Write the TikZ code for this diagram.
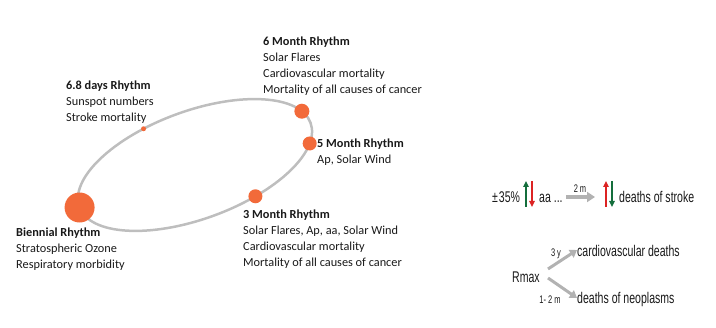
\documentclass[tikz,border=0pt]{standalone}
\usepackage{fontspec}
\setmainfont{Carlito}
\newfontfamily\narrowfont[FakeStretch=0.68]{Liberation Sans}
\usetikzlibrary{arrows.meta}
\definecolor{dotorange}{RGB}{242,106,58}
\definecolor{ringgray}{RGB}{190,190,190}
\definecolor{arrgray}{RGB}{178,178,178}
\definecolor{upgreen}{RGB}{20,110,60}
\definecolor{downred}{RGB}{220,35,35}
\definecolor{txt}{RGB}{25,25,25}
\tikzset{
  dot/.style={circle,fill=dotorange,inner sep=0pt,minimum size=#1},
  rtext/.style={anchor=north west,inner sep=0pt,align=left,text=txt,font=\fontsize{12.3}{16}\selectfont},
  ntext/.style={anchor=base west,inner sep=0pt,text=txt,font=\narrowfont\fontsize{15.5}{17}\selectfont},
  smalltext/.style={anchor=base,inner sep=0pt,text=txt,font=\narrowfont\fontsize{11}{13}\selectfont},
  grayarrow/.style={draw=arrgray,line width=3.5pt,-{Triangle[length=8pt,width=10pt]}},
  greenarrow/.style={draw=upgreen,line width=2pt,-{Triangle[length=6pt,width=5.5pt]}},
  redarrow/.style={draw=downred,line width=2pt,-{Triangle[length=6pt,width=5.5pt]}}
}
\begin{document}
\begin{tikzpicture}[x=1pt,y=1pt]
\useasboundingbox (0,0) rectangle (716,328);
% ellipse orbit
\begin{scope}[shift={(195,163)},rotate=20]
  \draw[ringgray,line width=2.5pt] (0,0) ellipse [x radius=123,y radius=54];
  \coordinate (p68) at ({123*cos(107)},{54*sin(107)});
  \coordinate (p6) at ({123*cos(15)},{54*sin(15)});
  \coordinate (p5) at ({123*cos(-20.6)},{54*sin(-20.6)});
  \coordinate (p3) at ({123*cos(-68)},{54*sin(-68)});
  \coordinate (pb) at ({123*cos(180.5)},{54*sin(180.5)});
\end{scope}
\node[dot=5pt] (d68) at (p68) {};
\node[dot=15pt] (d6) at (p6) {};
\node[dot=14pt] (d5) at (p5) {};
\node[dot=14pt] (d3) at (p3) {};
\node[dot=30pt] (db) at (pb) {};
% labels
\node[rtext] (t6) at (263,291.5) {\textbf{6 Month Rhythm}\\Solar Flares\\Cardiovascular mortality\\Mortality of all causes of cancer};
\node[rtext] (t68) at (66,247.5) {\textbf{6.8 days Rhythm}\\Sunspot numbers\\Stroke mortality};
\node[rtext] (t5) at (317,189.5) {\textbf{5 Month Rhythm}\\Ap, Solar Wind};
\node[rtext] (t3) at (243,118.5) {\textbf{3 Month Rhythm}\\Solar Flares, Ap, aa, Solar Wind\\Cardiovascular mortality\\Mortality of all causes of cancer};
\node[rtext] (tb) at (16,100.5) {\textbf{Biennial Rhythm}\\Stratospheric Ozone\\Respiratory morbidity};
% right: stroke line
\node[ntext] (pct) at (492,125) {±\kern1pt35\%};
\coordinate (g1s) at (526,121); \coordinate (g1e) at (526,147);
\coordinate (r1s) at (532,147); \coordinate (r1e) at (532,121);
\draw[greenarrow] (g1s) -- (g1e);
\draw[redarrow] (r1s) -- (r1e);
\node[ntext] (aa) at (539,125) {aa ...};
\coordinate (ga1) at (566,131); \coordinate (ga2) at (595,131);
\draw[grayarrow] (ga1) -- (ga2);
\node[smalltext] (twom) at (580,135.5) {2 m};
\coordinate (r2s) at (606,121); \coordinate (r2e) at (606,147);
\coordinate (g2s) at (612,147); \coordinate (g2e) at (612,121);
\draw[redarrow] (r2s) -- (r2e);
\draw[greenarrow] (g2s) -- (g2e);
\node[ntext] (stroke) at (619,125) {deaths of stroke};
% right: Rmax
\node[ntext] (rmax) at (512,45) {Rmax};
\node[ntext] (cardio) at (577,71.5) {cardiovascular deaths};
\node[ntext] (neo) at (577,24.5) {deaths of neoplasms};
\node[smalltext] (threey) at (556,71) {3 y};
\node[smalltext] (onetwo) at (550,24) {1- 2 m};
\coordinate (ra1) at (548,59); \coordinate (ra2) at (577,78);
\coordinate (rb1) at (548,50); \coordinate (rb2) at (577,30);
\draw[grayarrow,-{Triangle[length=7pt,width=9pt]},line width=3pt] (ra1) -- (ra2);
\draw[grayarrow,-{Triangle[length=7pt,width=9pt]},line width=3pt] (rb1) -- (rb2);
\end{tikzpicture}
\end{document}
